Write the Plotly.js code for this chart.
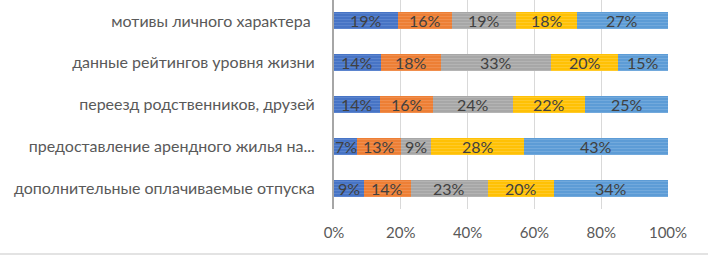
<!DOCTYPE html>
<html>
<head>
<meta charset="utf-8">
<script src="https://cdn.plot.ly/plotly-3.0.1.min.js"></script>
<style>html,body{margin:0;padding:0;background:#fff;}#chart{width:708px;height:256px;}</style>
</head>
<body>
<div id="chart"></div>
<script>
// categories listed bottom to top (Plotly draws first category at bottom)
const categories = [
  "дополнительные оплачиваемые отпуска",
  "предоставление арендного жилья на...",
  "переезд родственников, друзей",
  "данные рейтингов уровня жизни",
  "мотивы личного характера "
];
const series1 = [9, 7, 14, 14, 19];
const series2 = [14, 13, 16, 18, 16];
const series3 = [23, 9, 24, 33, 19];
const series4 = [20, 28, 22, 20, 18];
const series5 = [34, 43, 25, 15, 27];
const xTickVals = [0, 20, 40, 60, 80, 100];
const xTickText = ["0%", "20%", "40%", "60%", "80%", "100%"];

const seriesList = [series1, series2, series3, series4, series5];
const colors = ["#4472C4", "#ED7D31", "#A5A5A5", "#FFC000", "#5B9BD5"];
const stripe = ["#7196d8", "#f3a06a", "#c4c4c4", "#ffd454", "#8ab8e4"];

const FONT = "Lato, 'Open Sans', sans-serif";

const traces = seriesList.map((vals, i) => ({
  type: "bar",
  orientation: "h",
  y: categories,
  x: vals,
  textposition: "none",
  marker: {
    color: colors[i],
    line: {width: 0},
    pattern: {shape: "-", bgcolor: colors[i], fgcolor: stripe[i], size: 3, solidity: 0.4, fillmode: "overlay"}
  },
  hoverinfo: "none",
  showlegend: false
}));

// value labels centred in each normalised segment
const annotations = [];
categories.forEach((cat, j) => {
  const total = seriesList.reduce((s, arr) => s + arr[j], 0);
  let cum = 0;
  seriesList.forEach((arr) => {
    const v = arr[j];
    const mid = (cum + v / 2) / total * 100;
    cum += v;
    annotations.push({
      x: mid, y: cat, xref: "x", yref: "y",
      text: v + "%", showarrow: false,
      font: {family: FONT, size: 16, color: "#404040"},
      xanchor: "center", yanchor: "middle"
    });
  });
});

const layout = {
  width: 708,
  height: 256,
  barmode: "stack",
  barnorm: "percent",
  bargap: 0.59,
  margin: {l: 334, r: 40, t: 0, b: 47},
  paper_bgcolor: "#ffffff",
  plot_bgcolor: "#ffffff",
  font: {family: FONT, color: "#595959", size: 16},
  xaxis: {
    range: [0, 100],
    tickvals: xTickVals,
    ticktext: xTickText,
    showgrid: true,
    gridcolor: "#d9d9d9",
    gridwidth: 1,
    zeroline: false,
    showline: false,
    ticks: "",
    ticklabelstandoff: 13,
    tickfont: {size: 15, color: "#595959"},
    fixedrange: true
  },
  yaxis: {
    showline: true,
    linecolor: "#a6a6a6",
    linewidth: 2,
    showgrid: false,
    ticks: "",
    ticklabelstandoff: 14,
    tickfont: {size: 16, color: "#595959"},
    fixedrange: true
  },
  annotations: annotations,
  shapes: [
    {type: "line", xref: "paper", yref: "paper", x0: -2, x1: 2, y0: -0.215, y1: -0.215,
     line: {color: "#e3e3e3", width: 2}}
  ]
};

Plotly.newPlot("chart", traces, layout, {displayModeBar: false, staticPlot: true});
</script>
</body>
</html>
